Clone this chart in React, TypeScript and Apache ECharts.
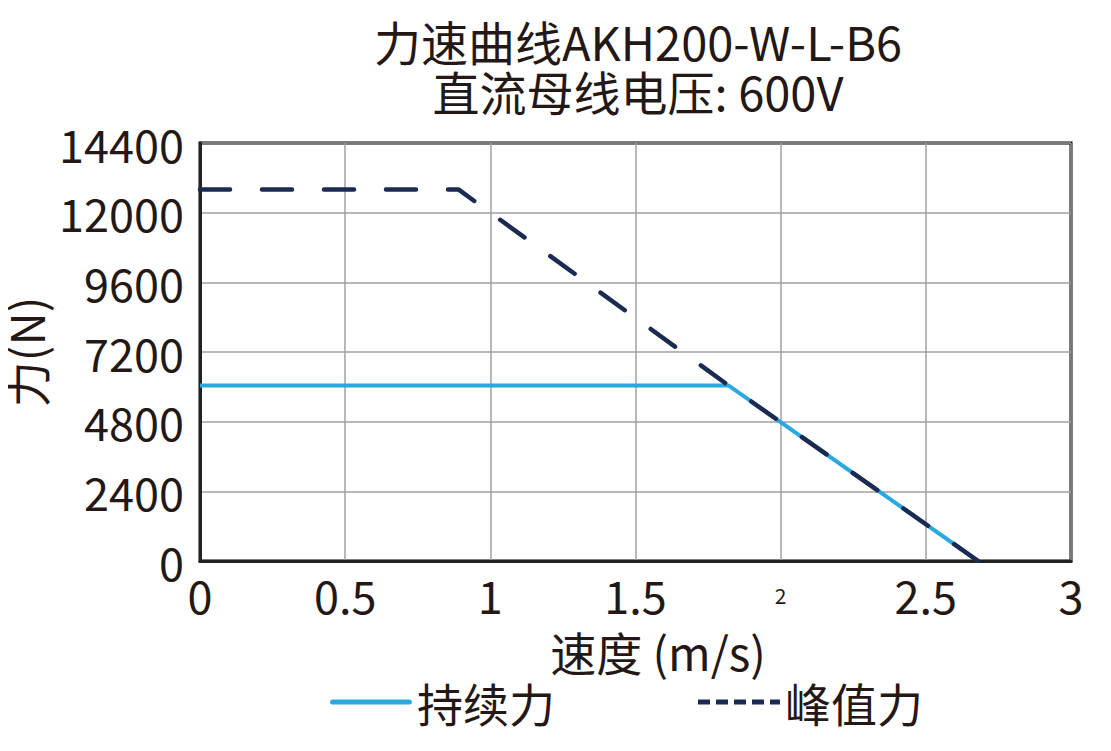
import { useEffect, useRef } from "react";
import * as echarts from "echarts";

const titleLines = ["力速曲线AKH200-W-L-B6", "直流母线电压: 600V"];
const seriesNames = ["持续力", "峰值力"];

// 持续力: speed (m/s) / force (N)
const contSpeed = [0, 1.82, 2.68];
const contForce = [6050, 6050, 0];

// 峰值力
const peakSpeed = [0, 0.89, 1.82, 2.68];
const peakForce = [12800, 12800, 6050, 0];

const xTicks = { min: 0, max: 3, interval: 0.5 };
const yTicks = { min: 0, max: 14400, interval: 2400 };

const FONT = "'Noto Sans CJK SC', 'Noto Sans', sans-serif";
const TEXT = "#231815";
const CONT_COLOR = "#29a9e0";
const PEAK_COLOR = "#1b2a50";

// legend icons: a solid bar and five short dashes
const SOLID_ICON = "path://M2,0h78a2.5,2.5 0 0 1 0,5h-78a2.5,2.5 0 0 1 0,-5z";
const DASH_ICON =
  "path://M0,0h12v5h-12z M18,0h12v5h-12z M36,0h12v5h-12z M54,0h12v5h-12z M72,0h10v5h-10z";

function pairs(xs: number[], ys: number[]) {
  return xs.map((x, i) => [x, ys[i]]);
}

export default function App() {
  const ref = useRef<HTMLDivElement | null>(null);

  useEffect(() => {
    const el = ref.current;
    if (!el) return;
    const chart = echarts.init(el, null, { renderer: "svg" });

    const titleStyle = {
      fontFamily: FONT,
      fontSize: 47,
      lineHeight: 48,
      fontWeight: "normal" as const,
      color: TEXT,
    };

    chart.setOption({
      animation: false,
      backgroundColor: "#ffffff",
      textStyle: { fontFamily: FONT, color: TEXT },
      title: titleLines.map((t, i) => ({
        text: t,
        left: 630,
        textAlign: "center",
        top: 8 + i * 50,
        padding: 0,
        textStyle: titleStyle,
      })),
      legend: {
        top: 666,
        left: 317,
        itemWidth: 82,
        itemHeight: 5,
        itemGap: 143,
        symbolKeepAspect: false,
        textStyle: { fontFamily: FONT, fontSize: 46, color: TEXT },
        data: [
          { name: seriesNames[0], icon: SOLID_ICON },
          { name: seriesNames[1], icon: DASH_ICON },
        ],
      },
      grid: {
        left: 192,
        right: 32,
        top: 135,
        bottom: 182,
        outerBoundsMode: "none",
        containLabel: false,
        show: true,
        borderColor: "#000",
        borderWidth: 3,
      },
      xAxis: {
        type: "value",
        ...xTicks,
        name: "速度 (m/s)",
        nameLocation: "middle",
        nameGap: 68,
        nameTextStyle: {
          fontFamily: FONT,
          fontSize: 46,
          lineHeight: 44,
          color: TEXT,
          padding: [0, 0, 0, 45],
        },
        axisLine: { show: true, lineStyle: { color: "#222", width: 3 } },
        axisTick: { show: false },
        splitLine: { lineStyle: { color: "#a0a0a0", width: 1.5 } },
        axisLabel: {
          margin: 13,
          fontFamily: FONT,
          fontSize: 45,
          lineHeight: 40,
          color: TEXT,
          formatter: (v: number) => (v === 2 ? "{s|2}" : String(v)),
          rich: {
            s: {
              fontSize: 21,
              lineHeight: 21,
              padding: [20, 0, 0, 0],
              fontFamily: FONT,
              color: TEXT,
            },
          },
        },
      },
      yAxis: {
        type: "value",
        ...yTicks,
        name: "力(N)",
        nameLocation: "middle",
        nameGap: 142,
        nameRotate: 90,
        nameTextStyle: { fontFamily: FONT, fontSize: 46, lineHeight: 44, color: TEXT },
        axisLine: { show: true, lineStyle: { color: "#222", width: 3 } },
        axisTick: { show: false },
        splitLine: { lineStyle: { color: "#a0a0a0", width: 1.5 } },
        axisLabel: {
          margin: 16,
          fontFamily: FONT,
          fontSize: 45,
          color: TEXT,
          formatter: (v: number) => String(v),
        },
      },
      series: [
        {
          name: seriesNames[0],
          type: "line",
          data: pairs(contSpeed, contForce),
          symbol: "none",
          lineStyle: { color: CONT_COLOR, width: 4 },
          itemStyle: { color: CONT_COLOR },
          z: 2,
        },
        {
          name: seriesNames[1],
          type: "line",
          data: pairs(peakSpeed, peakForce),
          symbol: "none",
          lineStyle: {
            color: PEAK_COLOR,
            width: 4.5,
            type: [30, 32],
            cap: "round",
          },
          itemStyle: { color: PEAK_COLOR },
          z: 3,
        },
      ],
    });

    return () => chart.dispose();
  }, []);

  return <div ref={ref} style={{ width: 1095, height: 735 }} />;
}
